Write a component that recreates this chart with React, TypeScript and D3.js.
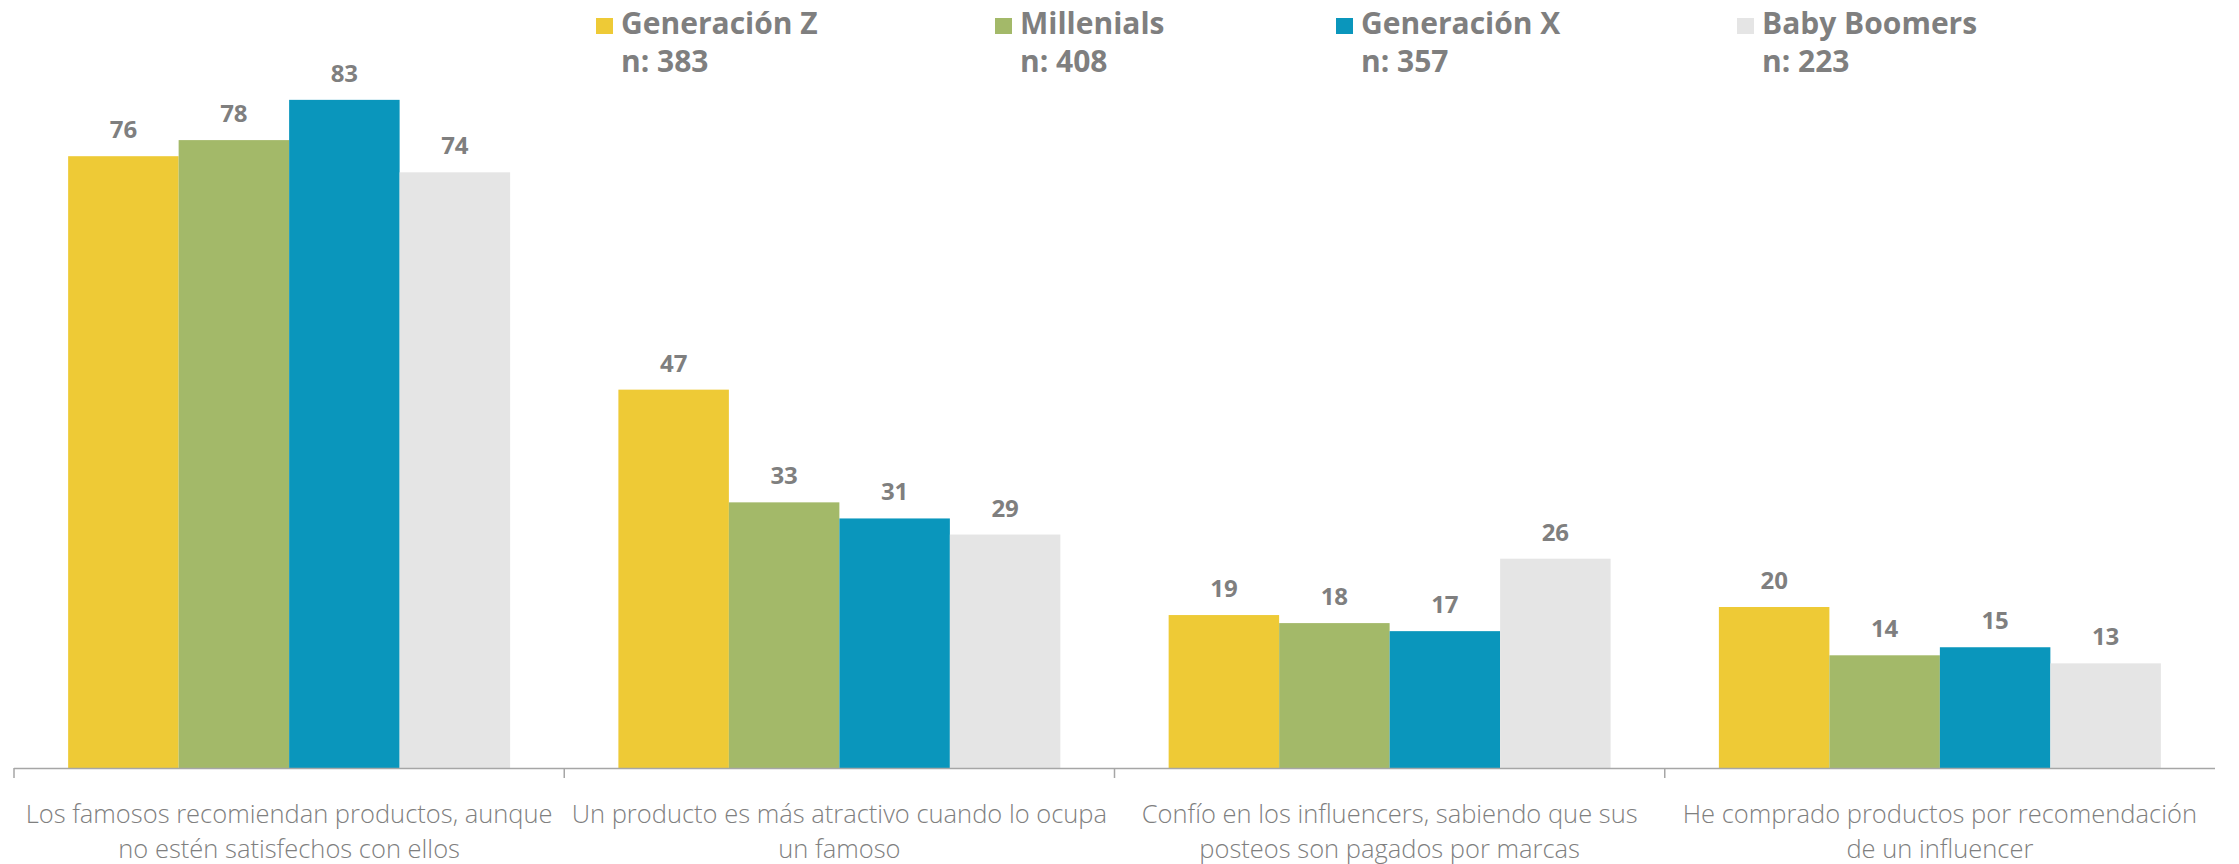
import React from "react";
import * as d3 from "d3";

const categories: string[][] = [
  ["Los famosos recomiendan productos, aunque", "no estén satisfechos con ellos"],
  ["Un producto es más atractivo cuando lo ocupa", "un famoso"],
  ["Confío en los influencers, sabiendo que sus", "posteos son pagados por marcas"],
  ["He comprado productos por recomendación", "de un influencer"],
];
const seriesNames = ["Generación Z", "Millenials", "Generación X", "Baby Boomers"];
const seriesN = ["n: 383", "n: 408", "n: 357", "n: 223"];
const seriesColors = ["#EECA36", "#A3B969", "#0A96BC", "#E5E5E5"];
const genZ = [76, 47, 19, 20];
const millenials = [78, 33, 18, 14];
const genX = [83, 31, 17, 15];
const boomers = [74, 29, 26, 13];
const seriesValues = [genZ, millenials, genX, boomers];
const legendX = [596, 995, 1336, 1737];

const W = 2239;
const H = 864;
const AXIS_Y = 768;
const TEXT = "#7F7F7F";

export default function App() {
  const catIdx = categories.map((_, i) => i);
  const x0 = d3.scaleBand<number>().domain(catIdx).range([14, 2215]).paddingInner(0).paddingOuter(0);
  const x1 = d3
    .scaleBand<number>()
    .domain(seriesNames.map((_, i) => i))
    .range([0, x0.bandwidth()])
    .paddingInner(0)
    .paddingOuter(0.49);
  const y = d3.scaleLinear().domain([0, 90]).range([AXIS_Y, AXIS_Y - 90 * 8.05]);

  const [r0, r1] = x0.range();
  const tickXs = catIdx.map((i) => x0(i)!);

  return (
    <svg
      width={W}
      height={H}
      style={{ position: "absolute", left: 0, top: 0, background: "#fff" }}
      fontFamily="'Open Sans', sans-serif"
    >
      {/* bars */}
      {catIdx.map((ci) => (
        <g key={ci} transform={`translate(${x0(ci)},0)`}>
          {seriesValues.map((vals, si) => {
            const v = vals[ci];
            const bx = x1(si)!;
            return (
              <g key={si}>
                <rect
                  x={bx}
                  y={y(v)}
                  width={x1.bandwidth()}
                  height={AXIS_Y - y(v)}
                  fill={seriesColors[si]}
                />
                <text
                  x={bx + x1.bandwidth() / 2}
                  y={y(v) - 18}
                  textAnchor="middle"
                  fontSize={24}
                  fontWeight="bold"
                  fill={TEXT}
                >
                  {v}
                </text>
              </g>
            );
          })}
        </g>
      ))}

      {/* axis */}
      <line x1={r0} x2={r1} y1={AXIS_Y + 0.5} y2={AXIS_Y + 0.5} stroke="#A6A6A6" strokeWidth={1.5} />
      {tickXs.map((tx, i) => (
        <line key={i} x1={tx} x2={tx} y1={AXIS_Y} y2={AXIS_Y + 10} stroke="#A6A6A6" strokeWidth={1.5} />
      ))}

      {/* category labels */}
      {categories.map((lines, ci) => (
        <text
          key={ci}
          x={x0(ci)! + x0.bandwidth() / 2}
          textAnchor="middle"
          fontSize={25.5}
          fontWeight={300}
          fill={TEXT}
        >
          {lines.map((l, li) => (
            <tspan key={li} x={x0(ci)! + x0.bandwidth() / 2} y={823 + li * 35}>
              {l}
            </tspan>
          ))}
        </text>
      ))}

      {/* legend */}
      {seriesNames.map((name, si) => (
        <g key={si} transform={`translate(${legendX[si]},0)`}>
          <rect x={0} y={18} width={17} height={16} fill={seriesColors[si]} />
          <text x={25} y={34} fontSize={30} fontWeight="bold" fill={TEXT}>
            {name}
          </text>
          <text x={25} y={72} fontSize={30} fontWeight="bold" fill={TEXT}>
            {seriesN[si]}
          </text>
        </g>
      ))}
    </svg>
  );
}
